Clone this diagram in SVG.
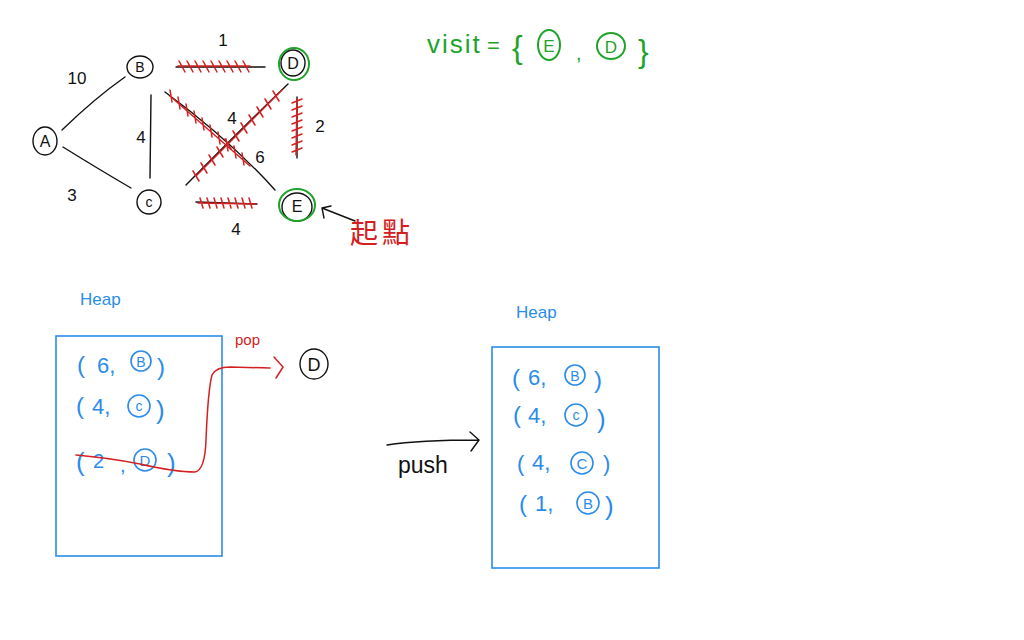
<svg xmlns="http://www.w3.org/2000/svg" width="1024" height="640" viewBox="0 0 1024 640">
<style>
.k{fill:none;stroke:#111;stroke-width:1.4;stroke-linecap:round}
.r{fill:none;stroke:#d42020;stroke-width:1.5;stroke-linecap:round}
.g{fill:none;stroke:#1fa32a;stroke-width:2}
.b{fill:none;stroke:#2a8ce8;stroke-width:1.6}
.tk{font-family:"Liberation Sans",sans-serif;fill:#111}
.tr{font-family:"Liberation Sans","Noto Sans CJK TC",sans-serif;fill:#d42020}
.tg{font-family:"Liberation Sans",sans-serif;fill:#1fa32a}
.tb{font-family:"Liberation Sans",sans-serif;fill:#2a8ce8}
</style>
<rect width="1024" height="640" fill="#fff"/>
<g id="connectors">
<path class="k" d="M62 130 Q95 98 125 77"/>
<path class="k" d="M63 147 Q100 170 131 188"/>
<path class="k" d="M151 95 L150 178"/>
<path class="k" d="M176 67 L265 67"/>
<path class="k" d="M165 92 Q230 140 275 190"/>
<path class="k" d="M186 185 Q240 130 288 84"/>
<path class="k" d="M297 97 L297 158"/>
<path class="k" d="M196 202 L257 204"/>
<path class="k" d="M355 221 L322 208 M322 208 L324 218 M322 208 L331 206"/>
</g>
<g id="hatches">
<path class="r" d="M178 66 L250 66 M179 61 L185 72 M187 61 L193 72 M195 61 L201 72 M203 61 L209 72 M211 61 L217 72 M219 61 L225 72 M227 61 L233 72 M235 61 L241 72 M243 61 L249 72"/>
<path class="r" d="M170 96 L250 166 M170 90 L172 102 M178 97 L180 109 M186 104 L188 116 M194 111 L196 123 M202 118 L204 130 M210 125 L212 137 M218 132 L220 144 M226 139 L228 151 M234 146 L236 158 M242 153 L244 165"/>
<path class="r" d="M196 176 L282 90 M193 171 L199 181 M201 163 L207 173 M209 155 L215 165 M217 147 L223 157 M225 139 L231 149 M233 131 L239 141 M241 123 L247 133 M249 115 L255 125 M257 107 L263 117 M265 99 L271 109 M273 91 L279 101"/>
<path class="r" d="M297 99 L296 155 M292 103 L302 99 M292 110 L302 106 M292 117 L302 113 M292 124 L302 120 M292 131 L302 127 M292 138 L302 134 M292 145 L302 141 M292 152 L302 148"/>
<path class="r" d="M198 203 L256 204 M200 198 L203 208 M207 198 L210 208 M214 198 L217 208 M221 198 L224 208 M228 198 L231 208 M235 198 L238 208 M242 198 L245 208 M249 198 L252 208"/>
</g>
<g id="node-A"><ellipse class="k" cx="45" cy="141" rx="12" ry="14"/><text class="tk" x="45" y="147" font-size="16" text-anchor="middle">A</text></g>
<g id="node-B"><ellipse class="k" cx="140" cy="67" rx="13" ry="11"/><text class="tk" x="140" y="72" font-size="14" text-anchor="middle">B</text></g>
<g id="node-C"><ellipse class="k" cx="149" cy="202" rx="12" ry="12"/><text class="tk" x="149" y="207" font-size="14" text-anchor="middle">c</text></g>
<g id="node-D"><ellipse class="k" cx="293" cy="63" rx="12" ry="13"/><ellipse class="g" cx="294" cy="64" rx="15" ry="16"/><text class="tk" x="293" y="69" font-size="16" text-anchor="middle">D</text></g>
<g id="node-E"><ellipse class="k" cx="297" cy="207" rx="15" ry="14"/><ellipse class="g" cx="297" cy="205" rx="18" ry="16"/><text class="tk" x="297" y="212" font-size="16" text-anchor="middle">E</text></g>
<g id="edge-labels" font-size="17">
<text class="tk" x="223" y="46" text-anchor="middle">1</text>
<text class="tk" x="77" y="84" text-anchor="middle">10</text>
<text class="tk" x="141" y="143" text-anchor="middle">4</text>
<text class="tk" x="72" y="201" text-anchor="middle">3</text>
<text class="tk" x="232" y="124" text-anchor="middle">4</text>
<text class="tk" x="260" y="163" text-anchor="middle">6</text>
<text class="tk" x="320" y="132" text-anchor="middle">2</text>
<text class="tk" x="236" y="235" text-anchor="middle">4</text>
</g>
<g id="start-label"><text class="tr" x="350" y="243" font-size="28" letter-spacing="4">起點</text></g>
<g id="visit">
<text class="tg" x="427" y="53" font-size="26" letter-spacing="2">visit</text>
<text class="tg" x="487" y="53" font-size="22">=</text>
<text class="tg" x="512" y="58" font-size="32">{</text>
<ellipse class="g" cx="549" cy="45" rx="11" ry="15" stroke-width="1.5"/>
<text class="tg" x="549" y="52" font-size="17" text-anchor="middle">E</text>
<text class="tg" x="576" y="60" font-size="20">,</text>
<ellipse class="g" cx="611" cy="46" rx="14" ry="13" stroke-width="1.5"/>
<text class="tg" x="611" y="53" font-size="17" text-anchor="middle">D</text>
<text class="tg" x="638" y="62" font-size="32">}</text>
</g>
<g id="heap-left">
<text class="tb" x="80" y="305" font-size="17">Heap</text>
<rect class="b" x="56" y="336" width="166" height="220"/>
<text class="tb" x="77" y="373" font-size="24">(</text>
<text class="tb" x="97" y="373" font-size="22">6,</text>
<circle class="b" cx="141" cy="361" r="10"/>
<text class="tb" x="141" y="367" font-size="14" text-anchor="middle">B</text>
<text class="tb" x="157" y="375" font-size="24">)</text>
<text class="tb" x="76" y="414" font-size="24">(</text>
<text class="tb" x="92" y="414" font-size="22">4,</text>
<circle class="b" cx="139" cy="406" r="11"/>
<text class="tb" x="139" y="411" font-size="14" text-anchor="middle">c</text>
<text class="tb" x="156" y="419" font-size="26">)</text>
<text class="tb" x="76" y="471" font-size="26">(</text>
<text class="tb" x="93" y="468" font-size="20">2</text>
<text class="tb" x="120" y="472" font-size="20">,</text>
<circle class="b" cx="145" cy="460" r="11"/>
<text class="tb" x="145" y="466" font-size="15" text-anchor="middle">D</text>
<text class="tb" x="167" y="472" font-size="26">)</text>
</g>
<g id="pop">
<path class="r" d="M76 455 Q110 458 140 464 Q175 472 195 472 Q205 470 206 440 Q208 390 212 375 Q216 367 230 367 L270 368"/>
<path class="r" d="M274 357 L283 367 L276 378"/>
<text class="tr" x="235" y="345" font-size="15">pop</text>
</g>
<g id="node-D-popped"><ellipse class="k" cx="314" cy="364" rx="14" ry="15" stroke-width="2"/><text class="tk" x="314" y="371" font-size="18" text-anchor="middle">D</text></g>
<g id="push">
<path class="k" d="M387 445 Q420 440 478 440 M470 432 L479 440 L471 451"/>
<text class="tk" x="398" y="473" font-size="23">push</text>
</g>
<g id="heap-right">
<text class="tb" x="516" y="318" font-size="17">Heap</text>
<rect class="b" x="492" y="347" width="167" height="221"/>
<text class="tb" x="512" y="386" font-size="24">(</text>
<text class="tb" x="528" y="385" font-size="22">6,</text>
<circle class="b" cx="575" cy="375" r="10"/>
<text class="tb" x="575" y="381" font-size="14" text-anchor="middle">B</text>
<text class="tb" x="594" y="388" font-size="24">)</text>
<text class="tb" x="513" y="423" font-size="24">(</text>
<text class="tb" x="528" y="423" font-size="22">4,</text>
<circle class="b" cx="576" cy="415" r="11"/>
<text class="tb" x="576" y="420" font-size="14" text-anchor="middle">c</text>
<text class="tb" x="597" y="428" font-size="26">)</text>
<text class="tb" x="517" y="471" font-size="22">(</text>
<text class="tb" x="532" y="470" font-size="22">4,</text>
<circle class="b" cx="582" cy="463" r="11"/>
<text class="tb" x="582" y="469" font-size="15" text-anchor="middle">C</text>
<text class="tb" x="603" y="471" font-size="22">)</text>
<text class="tb" x="519" y="512" font-size="24">(</text>
<text class="tb" x="535" y="511" font-size="22">1,</text>
<circle class="b" cx="588" cy="503" r="11"/>
<text class="tb" x="588" y="509" font-size="15" text-anchor="middle">B</text>
<text class="tb" x="605" y="515" font-size="26">)</text>
</g>
</svg>
